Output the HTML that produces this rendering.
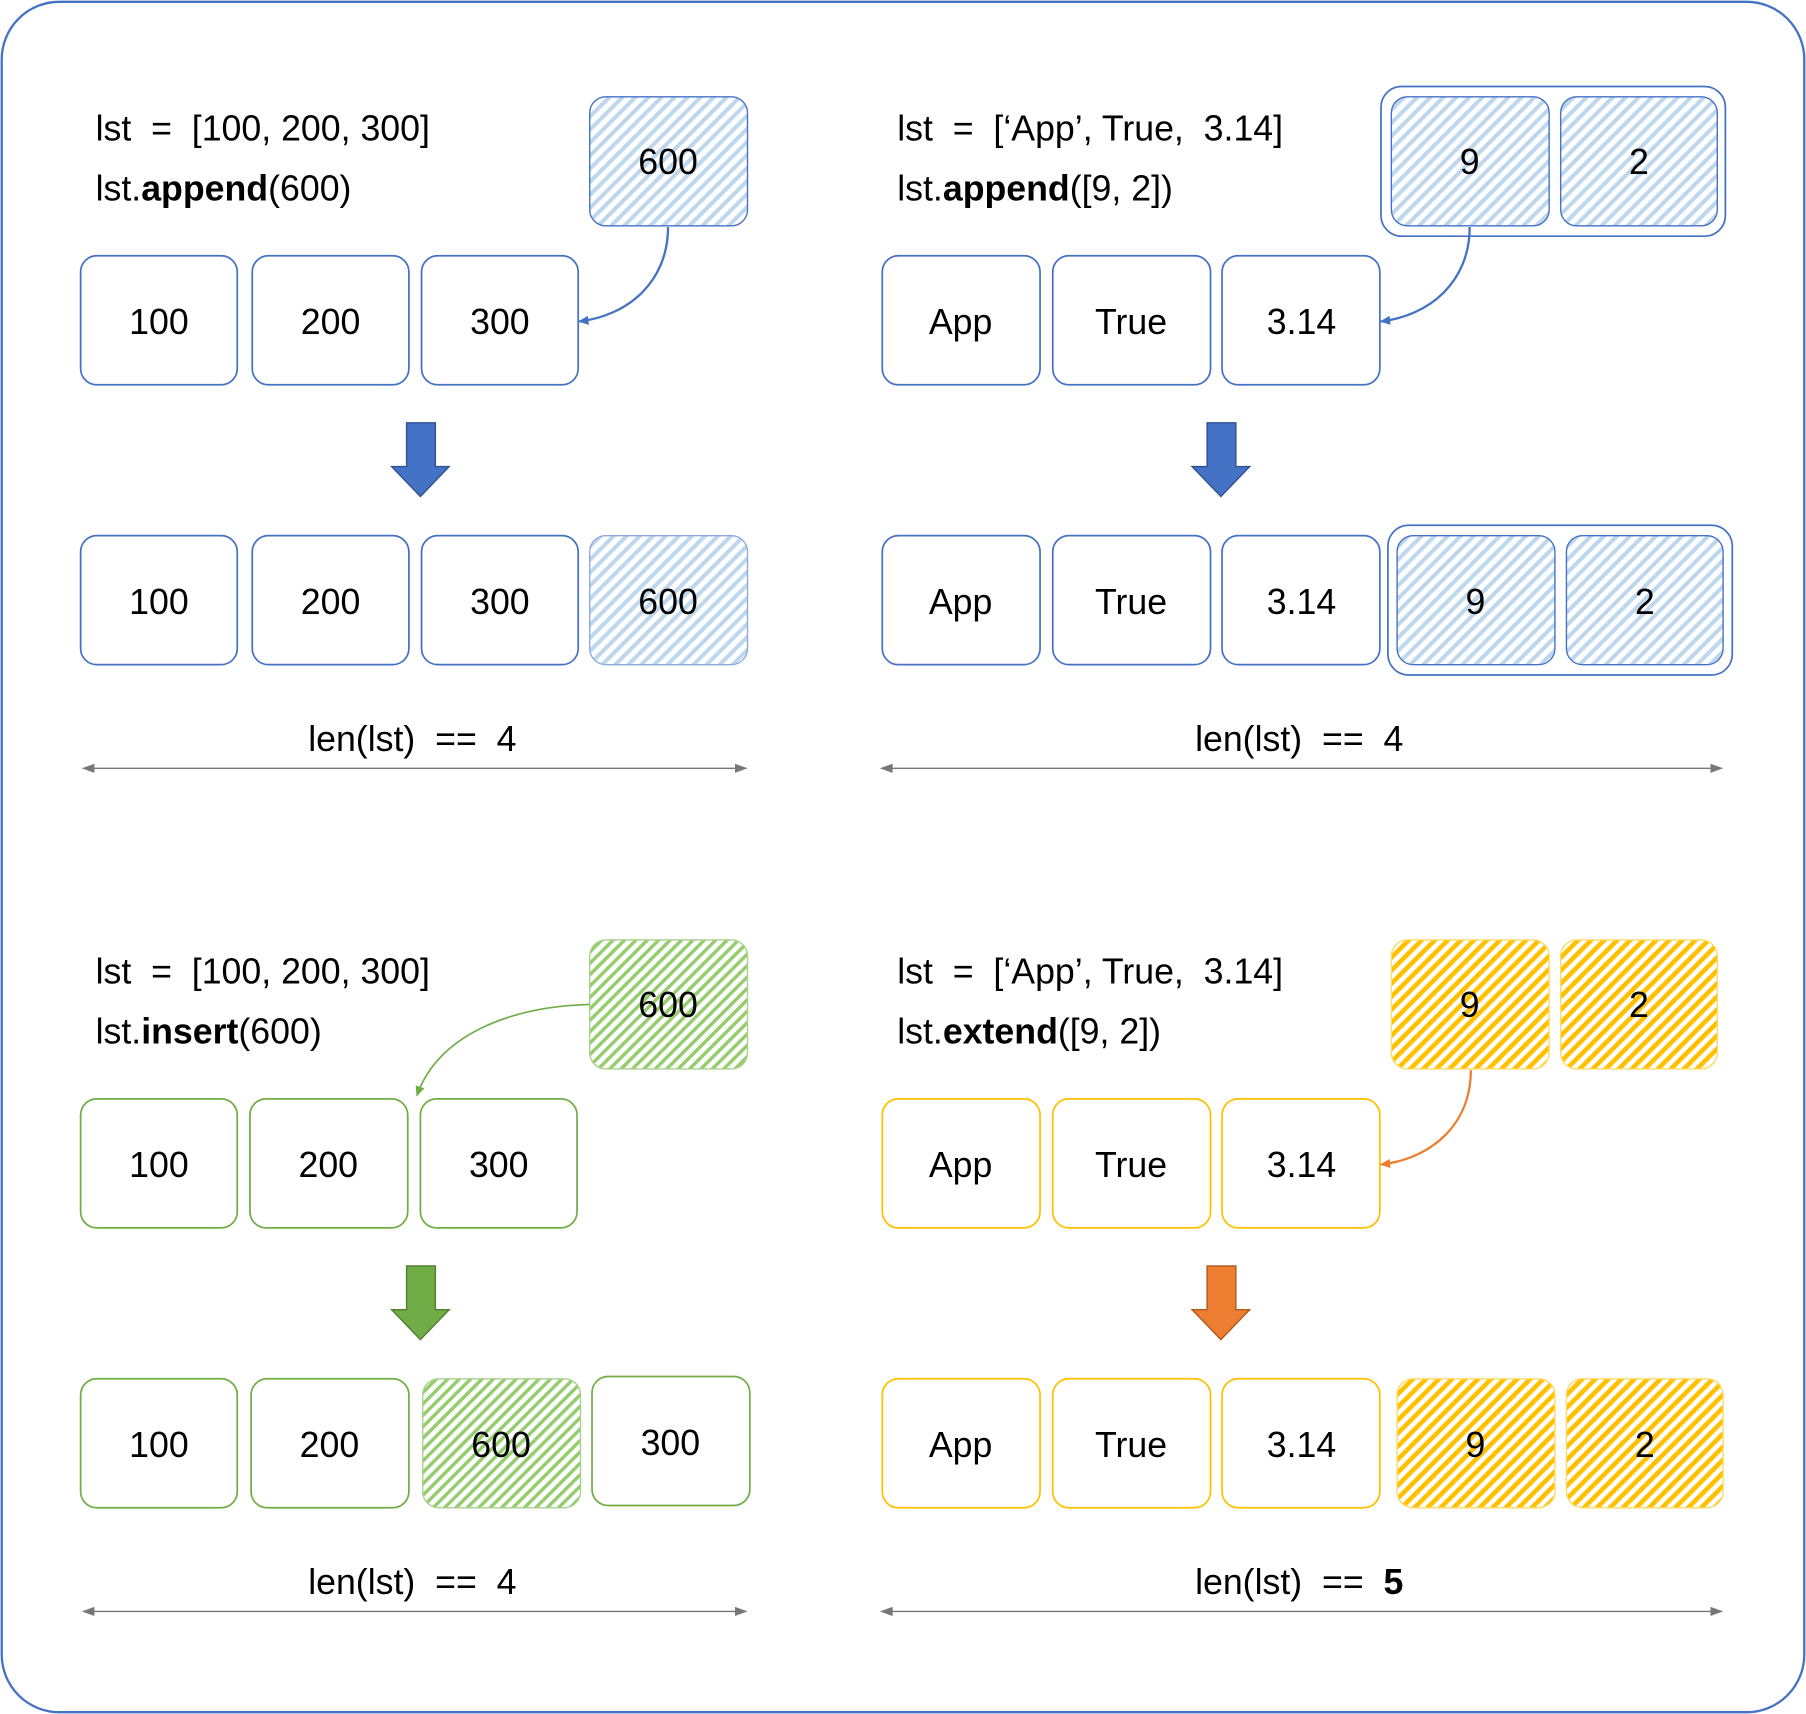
<!DOCTYPE html>
<html><head><meta charset="utf-8"><style>
html,body{margin:0;padding:0;background:#fff}
svg{display:block}
text{font-family:"Liberation Sans","DejaVu Sans",sans-serif;fill:#000;white-space:pre}
</style></head><body>
<svg width="1806" height="1714" viewBox="0 0 1568 1488" xmlns="http://www.w3.org/2000/svg" xml:space="preserve">
<defs>
<pattern id="hb" patternUnits="userSpaceOnUse" width="8" height="8" patternTransform="rotate(45)"><rect width="8" height="8" fill="#fff"/><rect width="3.5" height="8" fill="#BDD7EE"/></pattern>
<pattern id="hg" patternUnits="userSpaceOnUse" width="7" height="7" patternTransform="rotate(45)"><rect width="7" height="7" fill="#fff"/><rect width="3" height="7" fill="#94CC6E"/></pattern>
<pattern id="hy" patternUnits="userSpaceOnUse" width="8" height="8" patternTransform="rotate(45)"><rect width="8" height="8" fill="#fff"/><rect width="4" height="8" fill="#FFC000"/></pattern>
<marker id="ab" markerWidth="10" markerHeight="10" refX="8" refY="5" orient="auto" markerUnits="userSpaceOnUse"><path d="M0,1 L9,5 L0,9 Z" fill="#4472C4"/></marker>
<marker id="ag" markerWidth="10" markerHeight="10" refX="8" refY="5" orient="auto" markerUnits="userSpaceOnUse"><path d="M0,1 L9,5 L0,9 Z" fill="#70AD47"/></marker>
<marker id="ao" markerWidth="10" markerHeight="10" refX="8" refY="5" orient="auto" markerUnits="userSpaceOnUse"><path d="M0,1 L9,5 L0,9 Z" fill="#ED7D31"/></marker>
<marker id="gs" markerWidth="12" markerHeight="8" refX="10" refY="4" orient="auto" markerUnits="userSpaceOnUse"><path d="M0,0 L11,4 L0,8 Z" fill="#777"/></marker>
<marker id="ge" markerWidth="12" markerHeight="8" refX="1" refY="4" orient="auto" markerUnits="userSpaceOnUse"><path d="M11,0 L0,4 L11,8 Z" fill="#777"/></marker>
</defs>
<rect x="1.5" y="1.5" width="1565" height="1485" rx="50" fill="#fff" stroke="#4472C4" stroke-width="2"/>

<g font-size="31">
<!-- Top left -->
<text x="83" y="122">lst  =  [100, 200, 300]</text>
<text x="83" y="174">lst.<tspan font-weight="bold">append</tspan>(600)</text>
<g fill="none" stroke="#4472C4" stroke-width="1.5">
<rect x="70" y="222" width="136" height="112" rx="14"/><rect x="219" y="222" width="136" height="112" rx="14"/><rect x="366" y="222" width="136" height="112" rx="14"/>
<rect x="70" y="465" width="136" height="112" rx="14"/><rect x="219" y="465" width="136" height="112" rx="14"/><rect x="366" y="465" width="136" height="112" rx="14"/>
</g>
<rect x="512" y="84" width="137" height="112" rx="14" fill="url(#hb)" stroke="#4472C4" stroke-width="1.2"/>
<rect x="512" y="465" width="137" height="112" rx="14" fill="url(#hb)" stroke="#8FAADC" stroke-width="1.2"/>
<g text-anchor="middle">
<text x="580" y="151">600</text>
<text x="138" y="290">100</text><text x="287" y="290">200</text><text x="434" y="290">300</text>
<text x="138" y="533">100</text><text x="287" y="533">200</text><text x="434" y="533">300</text><text x="580" y="533">600</text>
<text x="358" y="652">len(lst)  ==  4</text>
</g>
<path d="M580,197 C580,245 545,274 503,279" fill="none" stroke="#4472C4" stroke-width="2" marker-end="url(#ab)"/>
<path d="M353,367 h25 v38 h12 l-25,26 l-25,-26 h13 z" fill="#4472C4" stroke="#2F528F" stroke-width="1.2"/>
<line x1="72" y1="667" x2="648" y2="667" stroke="#777" stroke-width="1.2" marker-start="url(#ge)" marker-end="url(#gs)"/>

<!-- Top right -->
<text x="779" y="122">lst  =  [‘App’, True,  3.14]</text>
<text x="779" y="174">lst.<tspan font-weight="bold">append</tspan>([9, 2])</text>
<g fill="none" stroke="#4472C4" stroke-width="1.5">
<rect x="766" y="222" width="137" height="112" rx="14"/><rect x="914" y="222" width="137" height="112" rx="14"/><rect x="1061" y="222" width="137" height="112" rx="14"/>
<rect x="766" y="465" width="137" height="112" rx="14"/><rect x="914" y="465" width="137" height="112" rx="14"/><rect x="1061" y="465" width="137" height="112" rx="14"/>
<rect x="1199" y="75" width="299" height="130" rx="18"/>
<rect x="1205" y="456" width="299" height="130" rx="18"/>
</g>
<g fill="url(#hb)" stroke="#4472C4" stroke-width="1.2">
<rect x="1208" y="84" width="137" height="112" rx="14"/><rect x="1355" y="84" width="136" height="112" rx="14"/>
<rect x="1213" y="465" width="137" height="112" rx="14"/><rect x="1360" y="465" width="136" height="112" rx="14"/>
</g>
<g text-anchor="middle">
<text x="1276" y="151">9</text><text x="1423" y="151">2</text>
<text x="834" y="290">App</text><text x="982" y="290">True</text><text x="1130" y="290">3.14</text>
<text x="834" y="533">App</text><text x="982" y="533">True</text><text x="1130" y="533">3.14</text>
<text x="1281" y="533">9</text><text x="1428" y="533">2</text>
<text x="1128" y="652">len(lst)  ==  4</text>
</g>
<path d="M1276,197 C1276,245 1241,274 1199,279" fill="none" stroke="#4472C4" stroke-width="2" marker-end="url(#ab)"/>
<path d="M1048,367 h25 v38 h12 l-25,26 l-25,-26 h13 z" fill="#4472C4" stroke="#2F528F" stroke-width="1.2"/>
<line x1="765" y1="667" x2="1495" y2="667" stroke="#777" stroke-width="1.2" marker-start="url(#ge)" marker-end="url(#gs)"/>

<!-- Bottom left -->
<text x="83" y="854">lst  =  [100, 200, 300]</text>
<text x="83" y="906">lst.<tspan font-weight="bold">insert</tspan>(600)</text>
<g fill="none" stroke="#70AD47" stroke-width="1.5">
<rect x="70" y="954" width="136" height="112" rx="14"/><rect x="217" y="954" width="137" height="112" rx="14"/><rect x="365" y="954" width="136" height="112" rx="14"/>
<rect x="70" y="1197" width="136" height="112" rx="14"/><rect x="218" y="1197" width="137" height="112" rx="14"/><rect x="514" y="1195" width="137" height="112" rx="14"/>
</g>
<rect x="512" y="816" width="137" height="112" rx="14" fill="url(#hg)" stroke="#A9D18E" stroke-width="1.2"/>
<rect x="367" y="1197" width="137" height="112" rx="14" fill="url(#hg)" stroke="#A9D18E" stroke-width="1.2"/>
<g text-anchor="middle">
<text x="580" y="883">600</text>
<text x="138" y="1022">100</text><text x="285" y="1022">200</text><text x="433" y="1022">300</text>
<text x="138" y="1265">100</text><text x="286" y="1265">200</text><text x="435" y="1265">600</text><text x="582" y="1263">300</text>
<text x="358" y="1384">len(lst)  ==  4</text>
</g>
<path d="M512,872 C440,874 380,900 362,951" fill="none" stroke="#70AD47" stroke-width="1.5" marker-end="url(#ag)"/>
<path d="M353,1099 h25 v38 h12 l-25,26 l-25,-26 h13 z" fill="#70AD47" stroke="#507E32" stroke-width="1.2"/>
<line x1="72" y1="1399" x2="648" y2="1399" stroke="#777" stroke-width="1.2" marker-start="url(#ge)" marker-end="url(#gs)"/>

<!-- Bottom right -->
<text x="779" y="854">lst  =  [‘App’, True,  3.14]</text>
<text x="779" y="906">lst.<tspan font-weight="bold">extend</tspan>([9, 2])</text>
<g fill="none" stroke="#FFC000" stroke-width="1.5">
<rect x="766" y="954" width="137" height="112" rx="14"/><rect x="914" y="954" width="137" height="112" rx="14"/><rect x="1061" y="954" width="137" height="112" rx="14"/>
<rect x="766" y="1197" width="137" height="112" rx="14"/><rect x="914" y="1197" width="137" height="112" rx="14"/><rect x="1061" y="1197" width="137" height="112" rx="14"/>
</g>
<g fill="url(#hy)" stroke="#FFD966" stroke-width="1.2">
<rect x="1208" y="816" width="137" height="112" rx="14"/><rect x="1355" y="816" width="136" height="112" rx="14"/>
<rect x="1213" y="1197" width="137" height="112" rx="14"/><rect x="1360" y="1197" width="136" height="112" rx="14"/>
</g>
<g text-anchor="middle">
<text x="1276" y="883">9</text><text x="1423" y="883">2</text>
<text x="834" y="1022">App</text><text x="982" y="1022">True</text><text x="1130" y="1022">3.14</text>
<text x="834" y="1265">App</text><text x="982" y="1265">True</text><text x="1130" y="1265">3.14</text>
<text x="1281" y="1265">9</text><text x="1428" y="1265">2</text>
<text x="1128" y="1384">len(lst)  ==  <tspan font-weight="bold">5</tspan></text>
</g>
<path d="M1277,929 C1277,977 1242,1006 1199,1011" fill="none" stroke="#ED7D31" stroke-width="2" marker-end="url(#ao)"/>
<path d="M1048,1099 h25 v38 h12 l-25,26 l-25,-26 h13 z" fill="#ED7D31" stroke="#AE5A21" stroke-width="1.2"/>
<line x1="765" y1="1399" x2="1495" y2="1399" stroke="#777" stroke-width="1.2" marker-start="url(#ge)" marker-end="url(#gs)"/>
</g>
</svg>
</body></html>
